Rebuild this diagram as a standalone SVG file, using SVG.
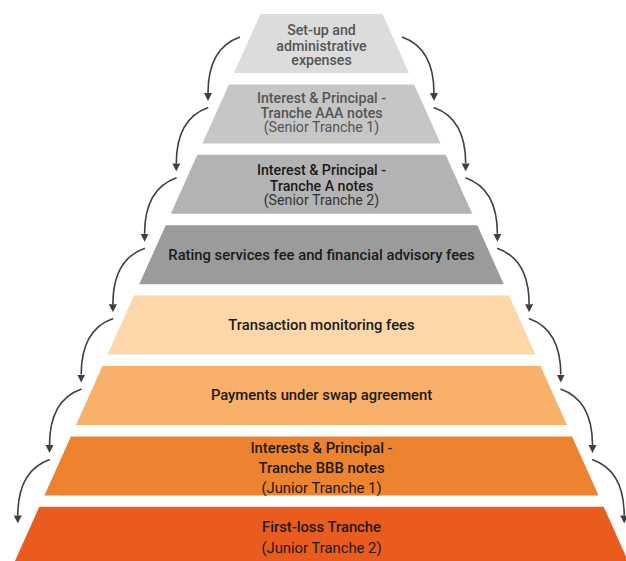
<svg xmlns="http://www.w3.org/2000/svg" width="626" height="561" viewBox="0 0 626 561">
  <style>
    .t { font-family: Roboto, "Liberation Sans", Arial, sans-serif; text-anchor: middle; }
    .m { font-weight: 500; }
    .r { font-weight: 400; }
    .s13 { font-size: 14.2px; }
    .s14 { font-size: 14.8px; }
    .s15 { font-size: 14.8px; }
    .grey { fill: #555555; }
    .dark { fill: #1a1a1a; }
    .link { fill: none; stroke: #404040; stroke-width: 1.6; marker-end: url(#head); }
  </style>
  <defs>
    <marker id="head" viewBox="0 0 10 10" refX="0" refY="5" markerUnits="userSpaceOnUse" markerWidth="8" markerHeight="13" orient="auto">
      <path d="M0,0 L10,5 L0,10 z" fill="#404040"/>
    </marker>
  </defs>
  <rect width="626" height="561" fill="#ffffff"/>

  <!-- waterfall tiers, top to bottom -->
  <g id="tier-setup">
    <polygon points="260.5,14 382.5,14 409,73 234,73" fill="#dcdcdc"/>
    <text class="t m s13 grey" x="321.5" y="35">Set-up and<tspan x="321.5" dy="15.5">administrative</tspan><tspan x="321.5" dy="14.5">expenses</tspan></text>
  </g>
  <g id="tier-aaa">
    <polygon points="228.9,84.4 414.1,84.4 440.6,143.4 202.4,143.4" fill="#c6c6c6"/>
    <text class="t grey s13" x="321.5" y="103"><tspan class="m">Interest &amp; Principal -</tspan><tspan class="m" x="321.5" dy="14.5">Tranche AAA notes</tspan><tspan class="r" x="321.5" dy="14.5">(Senior Tranche 1)</tspan></text>
  </g>
  <g id="tier-a">
    <polygon points="197.3,154.8 445.7,154.8 472.2,213.8 170.8,213.8" fill="#b3b3b3"/>
    <text class="t dark s13" x="321.5" y="175"><tspan class="m">Interest &amp; Principal -</tspan><tspan class="m" x="321.5" dy="15.5">Tranche A notes</tspan><tspan class="r" fill="#333333" x="321.5" dy="14.5">(Senior Tranche 2)</tspan></text>
  </g>
  <g id="tier-rating">
    <polygon points="165.7,225.2 477.3,225.2 503.8,284.2 139.2,284.2" fill="#9b9b9b"/>
    <text class="t m s14 dark" x="321.5" y="259.5">Rating services fee and financial advisory fees</text>
  </g>
  <g id="tier-monitoring">
    <polygon points="134.1,295.6 508.9,295.6 535.4,354.6 107.6,354.6" fill="#fdd6a9"/>
    <text class="t m s14 dark" x="321.5" y="330">Transaction monitoring fees</text>
  </g>
  <g id="tier-swap">
    <polygon points="102.5,366 540.5,366 567,425 76,425" fill="#f8b06b"/>
    <text class="t m s14 dark" x="321.5" y="400">Payments under swap agreement</text>
  </g>
  <g id="tier-bbb">
    <polygon points="70.9,436.4 572.1,436.4 598.6,495.4 44.4,495.4" fill="#ee832f"/>
    <text class="t dark s15" x="321.5" y="452.5"><tspan class="m">Interests &amp; Principal -</tspan><tspan class="m" x="321.5" dy="20">Tranche BBB notes</tspan><tspan class="r" x="321.5" dy="20">(Junior Tranche 1)</tspan></text>
  </g>
  <g id="tier-first-loss">
    <polygon points="39.3,506.8 603.7,506.8 630.2,565.8 12.8,565.8" fill="#e95c1d"/>
    <text class="t dark s15" x="321.5" y="532"><tspan class="m">First-loss Tranche</tspan><tspan class="r" x="321.5" dy="21">(Junior Tranche 2)</tspan></text>
  </g>

  <!-- overflow arrows down both flanks -->
  <g id="connectors">
    <path class="link" d="M240,37 c-20,7 -32,25 -32,56"/>
    <path class="link" d="M208.3,107.4 c-20,7 -32,25 -32,56"/>
    <path class="link" d="M176.6,177.8 c-20,7 -32,25 -32,56"/>
    <path class="link" d="M144.9,248.2 c-20,7 -32,25 -32,56"/>
    <path class="link" d="M113.2,318.6 c-20,7 -32,25 -32,56"/>
    <path class="link" d="M81.5,389 c-20,7 -32,25 -32,56"/>
    <path class="link" d="M49.8,459.4 c-20,7 -32,25 -32,56"/>

    <path class="link" d="M402,37 c20,7 32,25 32,56"/>
    <path class="link" d="M433.7,107.4 c20,7 32,25 32,56"/>
    <path class="link" d="M465.4,177.8 c20,7 32,25 32,56"/>
    <path class="link" d="M497.1,248.2 c20,7 32,25 32,56"/>
    <path class="link" d="M528.8,318.6 c20,7 32,25 32,56"/>
    <path class="link" d="M560.5,389 c20,7 32,25 32,56"/>
    <path class="link" d="M592.2,459.4 c20,7 32,25 32,56"/>
  </g>
</svg>
